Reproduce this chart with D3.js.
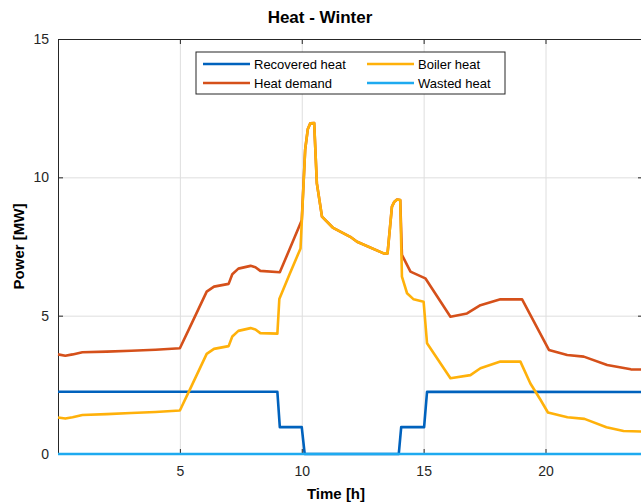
<!DOCTYPE html>
<html>
<head>
<meta charset="utf-8">
<script src="https://cdn.jsdelivr.net/npm/d3@7"></script>
<style>
  body { margin: 0; background: #fff; }
  svg { font-family: "Liberation Sans", Arial, sans-serif; }
  .axis text { font-size: 14px; fill: #262626; }
  .axis path, .axis line { stroke: #262626; }
  .grid line { stroke: #dedede; }
  .grid path { display: none; }
</style>
</head>
<body>
<div id="chart"></div>
<script>
// Values (hours, MW)
var recHours  = [0, 9.0, 9.1, 10.0, 10.12, 13.98, 14.08, 15.02, 15.14, 24];
var recValues = [2.25, 2.25, 0.97, 0.97, 0, 0, 0.97, 0.97, 2.25, 2.24];

var demHours  = [0, 0.3, 0.6, 1.0, 2, 3, 4, 5.0, 5.5, 6.1, 6.4, 7.0, 7.15, 7.4, 7.9, 8.1, 8.3, 9.1, 9.5, 10.0,
                 10.14, 10.25, 10.35, 10.51, 10.62, 10.83, 11.29, 11.99, 12.27, 13.36, 13.52, 13.7, 13.8, 13.91, 14.04,
                 14.11, 14.46, 15.07, 16.1, 16.78, 17.33, 18.15, 19.04, 20.14, 20.89, 21.57, 22.53, 23.5, 24];
var demValues = [3.6, 3.55, 3.6, 3.68, 3.7, 3.73, 3.77, 3.82, 4.75, 5.87, 6.05, 6.15, 6.5, 6.7, 6.8, 6.75, 6.62, 6.57, 7.4, 8.45,
                 11.0, 11.75, 11.95, 11.96, 9.78, 8.58, 8.17, 7.85, 7.67, 7.25, 7.25, 8.94, 9.12, 9.2, 9.18,
                 7.2, 6.59, 6.35, 4.96, 5.08, 5.38, 5.59, 5.59, 3.76, 3.58, 3.52, 3.22, 3.06, 3.05];

var boilHours  = [0, 0.3, 0.6, 1.0, 2, 3, 4, 5.0, 5.5, 6.1, 6.4, 7.0, 7.15, 7.4, 7.9, 8.1, 8.3, 9.0, 9.08, 9.5, 9.95,
                  10.14, 10.25, 10.35, 10.51, 10.62, 10.83, 11.29, 11.99, 12.27, 13.36, 13.52, 13.7, 13.8, 13.91, 14.04,
                  14.11, 14.32, 14.59, 15.0, 15.14, 16.1, 16.92, 17.33, 18.15, 18.97, 19.38, 19.8, 20.1,
                  20.9, 21.6, 22.5, 23.2, 24];
var boilValues = [1.32, 1.28, 1.33, 1.41, 1.44, 1.48, 1.52, 1.57, 2.5, 3.62, 3.8, 3.9, 4.25, 4.45, 4.55, 4.5, 4.37, 4.35, 5.6, 6.5, 7.43,
                  11.0, 11.75, 11.95, 11.96, 9.78, 8.58, 8.17, 7.85, 7.67, 7.25, 7.25, 8.94, 9.12, 9.2, 9.18,
                  6.41, 5.81, 5.59, 5.5, 4.0, 2.74, 2.85, 3.1, 3.34, 3.34, 2.55, 1.95, 1.5,
                  1.33, 1.27, 0.97, 0.83, 0.81];

var wasteHours  = [0, 24];
var wasteValues = [0, 0];

var xTicks = [5, 10, 15, 20];
var yTicks = [0, 5, 10, 15];

var colors = {"Recovered heat": "#0062bd", "Heat demand": "#d5501a", "Boiler heat": "#ffb10a", "Wasted heat": "#1eaaf0"};

// dimensions
var margin = {top: 39, right: -2, bottom: 50, left: 58},
    width = 641 - margin.left - margin.right,
    height = 504 - margin.top - margin.bottom;

var svg = d3.select("#chart").append("svg")
    .attr("width", 641)
    .attr("height", 504);

var g = svg.append("g")
    .attr("transform", "translate(" + margin.left + "," + margin.top + ")");

var x = d3.scaleLinear().domain([0, 24]).range([0, width]);
var y = d3.scaleLinear().domain([0, 15]).range([height, 0]);

// grid
g.append("g").attr("class", "grid")
    .attr("transform", "translate(0," + height + ")")
    .call(d3.axisBottom(x).tickValues(xTicks).tickSize(-height).tickFormat(""));
g.append("g").attr("class", "grid")
    .call(d3.axisLeft(y).tickValues(yTicks).tickSize(-width).tickFormat(""));

// axes (ticks inward, matlab style)
g.append("g").attr("class", "axis")
    .attr("transform", "translate(0," + height + ")")
    .call(d3.axisBottom(x).tickValues(xTicks).tickSizeInner(-5).tickSizeOuter(0).tickPadding(12));
g.append("g").attr("class", "axis")
    .call(d3.axisTop(x).tickValues(xTicks).tickSizeInner(-5).tickSizeOuter(0).tickFormat(""));
g.append("g").attr("class", "axis")
    .call(d3.axisLeft(y).tickValues(yTicks).tickSizeInner(-5).tickSizeOuter(0).tickPadding(9));
g.append("g").attr("class", "axis")
    .attr("transform", "translate(" + width + ",0)")
    .call(d3.axisRight(y).tickValues(yTicks).tickSizeInner(-5).tickSizeOuter(0).tickFormat(""));

function makeData(hours, values) {
    return hours.map(function(h, i) { return {x: h, y: values[i]}; });
}

var line = d3.line()
    .x(function(d) { return x(d.x); })
    .y(function(d) { return y(d.y); });

var series = [
    {name: "Recovered heat", data: makeData(recHours, recValues)},
    {name: "Heat demand", data: makeData(demHours, demValues)},
    {name: "Boiler heat", data: makeData(boilHours, boilValues)},
    {name: "Wasted heat", data: makeData(wasteHours, wasteValues)}
];

g.selectAll(".line")
    .data(series)
    .enter().append("path")
    .attr("class", "line")
    .attr("fill", "none")
    .attr("stroke", function(d) { return colors[d.name]; })
    .attr("stroke-width", 2.6)
    .attr("stroke-linejoin", "round")
    .attr("d", function(d) { return line(d.data); });

// title and labels
svg.append("text")
    .attr("x", 320).attr("y", 23)
    .attr("text-anchor", "middle")
    .style("font-size", "17px").style("font-weight", "bold").attr("fill", "#000")
    .text("Heat - Winter");

svg.append("text")
    .attr("x", 336).attr("y", 499)
    .attr("text-anchor", "middle")
    .style("font-size", "15px").style("font-weight", "bold").attr("fill", "#000")
    .text("Time [h]");

svg.append("text")
    .attr("transform", "translate(24," + (margin.top + y(7.5)) + ") rotate(-90)")
    .attr("text-anchor", "middle")
    .style("font-size", "15px").style("font-weight", "bold").attr("fill", "#000")
    .text("Power [MW]");

// legend
var legend = svg.append("g").attr("transform", "translate(196,52)");
legend.append("rect")
    .attr("width", 309).attr("height", 42)
    .attr("fill", "#fff").attr("stroke", "#262626").attr("stroke-width", 1);

var legendOrder = ["Recovered heat", "Boiler heat", "Heat demand", "Wasted heat"];
var items = legend.selectAll(".item")
    .data(legendOrder)
    .enter().append("g")
    .attr("class", "item")
    .attr("transform", function(d, i) {
        return "translate(" + (i % 2 === 0 ? 7 : 171) + "," + (i < 2 ? 12 : 31) + ")";
    });
items.append("line")
    .attr("x1", 0).attr("x2", 47)
    .attr("stroke", function(d) { return colors[d]; })
    .attr("stroke-width", 2.6);
items.append("text")
    .attr("x", 51).attr("dy", "0.36em")
    .style("font-size", "13px").attr("fill", "#000")
    .text(function(d) { return d; });
</script>
</body>
</html>
